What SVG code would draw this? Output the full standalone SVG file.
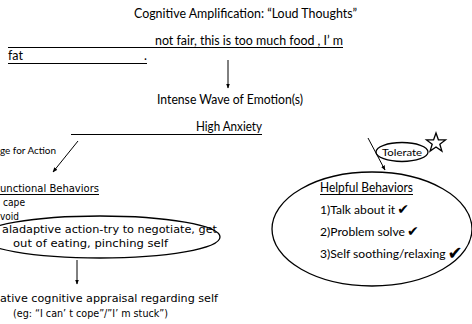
<svg xmlns="http://www.w3.org/2000/svg" width="472" height="324" viewBox="0 0 472 324">
  <defs>
    <marker id="arrowhead" viewBox="0 0 10 10" refX="9" refY="5" markerWidth="5" markerHeight="5" orient="auto" markerUnits="userSpaceOnUse">
      <path d="M0,1 L10,5 L0,9 Z" fill="#000"/>
    </marker>
    <style>
      .cal { font-family: Lato, "Open Sans", "Liberation Sans", sans-serif; font-size: 12.5px; fill: #000; }
      .item { font-family: Lato, "Open Sans", "Liberation Sans", sans-serif; font-size: 12.1px; fill: #000; }
      .goth { font-family: "DejaVu Sans", "Liberation Sans", sans-serif; font-size: 10.5px; fill: #000; }
      .small { font-size: 10px; }
      .rule { stroke: #000; stroke-width: 1.1; fill: none; }
      .shape { stroke: #000; stroke-width: 1.3; fill: none; }
      .conn { stroke: #000; stroke-width: 1; fill: none; marker-end: url(#arrowhead); }
      .tick { font-family: "DejaVu Sans", sans-serif; fill: #000; }
    </style>
  </defs>

  <rect width="472" height="324" fill="#fff"/>

  <!-- thought chain -->
  <g id="loud-thoughts">
    <text class="cal" x="134" y="18" textLength="223" lengthAdjust="spacingAndGlyphs">Cognitive Amplification: “Loud Thoughts”</text>
    <text class="cal" x="155" y="45" textLength="188" lengthAdjust="spacingAndGlyphs">not fair, this is too much food , I’ m</text>
    <line class="rule" x1="8" y1="47.5" x2="343" y2="47.5"/>
    <text class="cal" x="8" y="60">fat</text>
    <text class="cal" x="144" y="60">.</text>
    <line class="rule" x1="8" y1="63.5" x2="147" y2="63.5"/>
  </g>

  <g id="emotion-wave">
    <text class="cal" x="157" y="104" textLength="146" lengthAdjust="spacingAndGlyphs">Intense Wave of Emotion(s)</text>
  </g>

  <g id="high-anxiety">
    <text class="cal" x="196" y="131" textLength="66" lengthAdjust="spacingAndGlyphs">High Anxiety</text>
    <line class="rule" x1="71" y1="134.5" x2="262" y2="134.5"/>
  </g>

  <g id="urge-for-action">
    <text class="cal small" x="0" y="154" textLength="56" lengthAdjust="spacingAndGlyphs">ge for Action</text>
  </g>

  <!-- dysfunctional branch -->
  <g id="dysfunctional-behaviors">
    <text class="goth" x="0" y="192" textLength="99" lengthAdjust="spacingAndGlyphs">unctional Behaviors</text>
    <line class="rule" x1="0" y1="194.5" x2="99" y2="194.5"/>
    <text class="goth" x="3" y="206" textLength="22" lengthAdjust="spacingAndGlyphs">cape</text>
    <text class="goth" x="0" y="220" textLength="19" lengthAdjust="spacingAndGlyphs">void</text>
  </g>

  <g id="maladaptive-action">
    <ellipse class="shape" cx="100" cy="237" rx="120" ry="21"/>
    <text class="goth" x="2" y="233" textLength="215" lengthAdjust="spacingAndGlyphs">aladaptive action-try to negotiate, get</text>
    <text class="goth" x="13" y="247" textLength="155" lengthAdjust="spacingAndGlyphs">out of eating, pinching self</text>
  </g>

  <g id="negative-appraisal">
    <text class="goth" x="0" y="302" textLength="218" lengthAdjust="spacingAndGlyphs">ative cognitive appraisal regarding self</text>
    <text class="goth" x="13" y="317" textLength="155" lengthAdjust="spacingAndGlyphs">(eg: “I can’ t cope”/”I’ m stuck”)</text>
  </g>

  <!-- helpful branch -->
  <g id="tolerate">
    <ellipse class="shape" cx="402" cy="152" rx="26" ry="9.5"/>
    <text class="cal small" x="402" y="156" text-anchor="middle" textLength="40" lengthAdjust="spacingAndGlyphs">Tolerate</text>
    <polygon class="shape" points="436,133 438.4,139.8 445.5,139.9 439.8,144.2 441.9,151.1 436,147 430.1,151.1 432.2,144.2 426.5,139.9 433.6,139.8"/>
  </g>

  <g id="helpful-behaviors">
    <ellipse class="shape" cx="372" cy="229" rx="100" ry="57"/>
    <text class="cal" x="320" y="192" textLength="93" lengthAdjust="spacingAndGlyphs">Helpful Behaviors</text>
    <line class="rule" x1="320" y1="194.5" x2="413" y2="194.5"/>
    <!-- each item carries its own check mark, set just after the words -->
    <text class="item" x="320" y="214">1)Talk about it<tspan class="tick" dx="2" font-size="14">✔</tspan></text>
    <text class="item" x="320" y="236">2)Problem solve<tspan class="tick" dx="2" font-size="14">✔</tspan></text>
    <text class="item" x="320" y="258">3)Self soothing/relaxing<tspan class="tick" dx="2" dy="1" font-size="18">✔</tspan></text>
  </g>

  <!-- connectors -->
  <g id="connectors">
    <line class="conn" x1="228" y1="60" x2="228" y2="88"/>
    <line class="conn" x1="78" y1="141" x2="53" y2="172"/>
    <line class="conn" x1="77" y1="260" x2="77" y2="284"/>
    <line class="conn" x1="368" y1="138" x2="385" y2="170"/>
  </g>
</svg>
